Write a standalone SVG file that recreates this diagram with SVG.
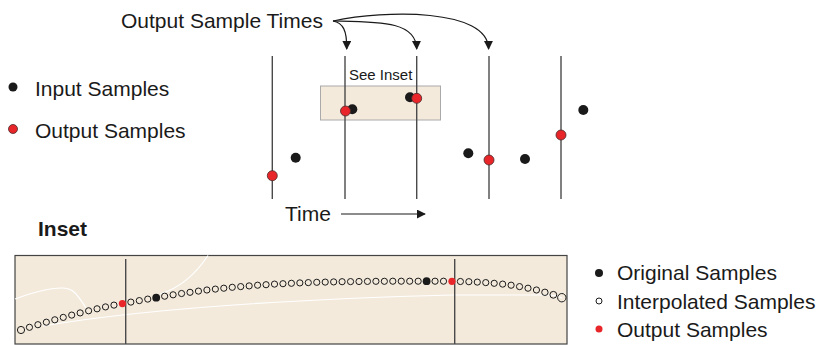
<svg xmlns="http://www.w3.org/2000/svg" width="819" height="345" viewBox="0 0 819 345">
<defs>
<style>
text{font-family:"Liberation Sans",Arial,sans-serif;fill:#1a1a1a}
.lbl{font-size:21px}
.vl{stroke:#4a4a4a;stroke-width:1.4;fill:none}
.bk{fill:#1a1a1a}
.rd{fill:#e8262a;stroke:#4a2a2a;stroke-width:0.8}
.rs{fill:#e8262a}
.o{fill:none;stroke:#1a1a1a;stroke-width:1}
.conn{stroke:#1a1a1a;stroke-width:1.2;fill:none}
.wl{stroke:#ffffff;stroke-width:1.2;fill:none}
</style>
<marker id="ah" viewBox="0 0 10 10" refX="9" refY="5" markerWidth="9" markerHeight="9" markerUnits="userSpaceOnUse" orient="auto">
<path d="M0,0 L10,5 L0,10 Z" fill="#1a1a1a"/>
</marker>
</defs>
<rect width="819" height="345" fill="#ffffff"/>

<g id="legend-top">
<circle class="bk" cx="13" cy="87" r="4.5"/>
<text class="lbl" x="35" y="96">Input Samples</text>
<circle class="rd" cx="13" cy="129" r="4.5"/>
<text class="lbl" x="35" y="138">Output Samples</text>
</g>

<g id="title-output-times">
<text class="lbl" x="121" y="28">Output Sample Times</text>
</g>

<g id="see-inset">
<rect x="320.5" y="86" width="120" height="34" fill="#f3eadc" stroke="#aaaaaa" stroke-width="1"/>
<text x="349" y="80" font-size="15">See Inset</text>
</g>

<g id="time-lines">
<line class="vl" x1="272.3" y1="56" x2="272.3" y2="199"/>
<line class="vl" x1="345" y1="56" x2="345" y2="199"/>
<line class="vl" x1="416.7" y1="56" x2="416.7" y2="199"/>
<line class="vl" x1="489" y1="56" x2="489" y2="199" stroke="#888888"/>
<line class="vl" x1="561" y1="56" x2="561" y2="199"/>
</g>

<g id="samples">
<circle class="bk" cx="295.7" cy="157.7" r="5"/>
<circle class="rd" cx="272.3" cy="175.7" r="5"/>
<circle class="bk" cx="352.3" cy="109.3" r="5"/>
<circle class="rd" cx="345.5" cy="111" r="5"/>
<circle class="bk" cx="410" cy="97.3" r="5"/>
<circle class="rd" cx="416.7" cy="98.3" r="5"/>
<circle class="bk" cx="468.3" cy="153.3" r="5"/>
<circle class="rd" cx="489" cy="160" r="5"/>
<circle class="bk" cx="525" cy="159" r="5"/>
<circle class="rd" cx="561" cy="135" r="5"/>
<circle class="bk" cx="583.3" cy="110" r="5"/>
</g>

<g id="time-axis">
<text class="lbl" x="285" y="221">Time</text>
</g>

<g id="connectors">
<path class="conn" d="M333,21 C343,23 347,30 346.7,49" marker-end="url(#ah)"/>
<path class="conn" d="M333,21 C380,22 416,21 416.7,49" marker-end="url(#ah)"/>
<path class="conn" d="M333,21 C385,10 488,8 488.6,49" marker-end="url(#ah)"/>
<line class="conn" x1="341" y1="214" x2="425" y2="214" marker-end="url(#ah)"/>
</g>

<g id="inset-title">
<text x="38" y="236" font-size="21" font-weight="bold">Inset</text>
</g>

<g id="inset">
<rect x="15" y="255.5" width="552" height="88.5" fill="#f3eadc" stroke="#444444" stroke-width="1.2"/>
<path class="wl" d="M15,299 C30,293 50,288 62,288 C72,288 76,292 86,308"/>
<path class="wl" d="M43,326 C150,308 300,299 453,295 L547,295 C553,295 558,296 562,298"/>
<path class="wl" d="M208,255.5 C195,275 180,288 160,294"/>
<line class="vl" x1="125.7" y1="259" x2="125.7" y2="344"/>
<line class="vl" x1="454.7" y1="259" x2="454.7" y2="344"/>
<g id="interp">
<circle class="o" cx="21" cy="330" r="3.6"/>
<circle class="o" cx="29.45" cy="327.3" r="3.1"/>
<circle class="o" cx="37.9" cy="324.7" r="3.1"/>
<circle class="o" cx="46.35" cy="322.2" r="3.1"/>
<circle class="o" cx="54.8" cy="319.8" r="3.1"/>
<circle class="o" cx="63.25" cy="317.4" r="3.1"/>
<circle class="o" cx="71.7" cy="315.1" r="3.1"/>
<circle class="o" cx="80.15" cy="312.9" r="3.1"/>
<circle class="o" cx="88.6" cy="310.8" r="3.1"/>
<circle class="o" cx="97.05" cy="308.8" r="3.1"/>
<circle class="o" cx="105.5" cy="306.9" r="3.1"/>
<circle class="o" cx="113.95" cy="305.1" r="3.1"/>
<circle class="o" cx="130.85" cy="302.1" r="3.1"/>
<circle class="o" cx="139.3" cy="300.6" r="3.1"/>
<circle class="o" cx="147.75" cy="299.1" r="3.1"/>
<circle class="o" cx="164.65" cy="296.2" r="3.1"/>
<circle class="o" cx="173.1" cy="294.8" r="3.1"/>
<circle class="o" cx="181.55" cy="293.5" r="3.1"/>
<circle class="o" cx="190" cy="292.3" r="3.1"/>
<circle class="o" cx="198.45" cy="291.1" r="3.1"/>
<circle class="o" cx="206.9" cy="290" r="3.1"/>
<circle class="o" cx="215.35" cy="289.1" r="3.1"/>
<circle class="o" cx="223.8" cy="288.2" r="3.1"/>
<circle class="o" cx="232.25" cy="287.3" r="3.1"/>
<circle class="o" cx="240.7" cy="286.6" r="3.1"/>
<circle class="o" cx="249.15" cy="285.9" r="3.1"/>
<circle class="o" cx="257.6" cy="285.2" r="3.1"/>
<circle class="o" cx="266.05" cy="284.7" r="3.1"/>
<circle class="o" cx="274.5" cy="284.1" r="3.1"/>
<circle class="o" cx="282.95" cy="283.7" r="3.1"/>
<circle class="o" cx="291.4" cy="283.3" r="3.1"/>
<circle class="o" cx="299.85" cy="282.9" r="3.1"/>
<circle class="o" cx="308.3" cy="282.6" r="3.1"/>
<circle class="o" cx="316.75" cy="282.3" r="3.1"/>
<circle class="o" cx="325.2" cy="282.1" r="3.1"/>
<circle class="o" cx="333.65" cy="281.9" r="3.1"/>
<circle class="o" cx="342.1" cy="281.7" r="3.1"/>
<circle class="o" cx="350.55" cy="281.6" r="3.1"/>
<circle class="o" cx="359" cy="281.5" r="3.1"/>
<circle class="o" cx="367.45" cy="281.4" r="3.1"/>
<circle class="o" cx="375.9" cy="281.3" r="3.1"/>
<circle class="o" cx="384.35" cy="281.3" r="3.1"/>
<circle class="o" cx="392.8" cy="281.2" r="3.1"/>
<circle class="o" cx="401.25" cy="281.2" r="3.1"/>
<circle class="o" cx="409.7" cy="281.2" r="3.1"/>
<circle class="o" cx="418.15" cy="281.2" r="3.1"/>
<circle class="o" cx="435.05" cy="281.2" r="3.1"/>
<circle class="o" cx="443.5" cy="281.2" r="3.1"/>
<circle class="o" cx="460.4" cy="281.5" r="3.1"/>
<circle class="o" cx="468.85" cy="281.7" r="3.1"/>
<circle class="o" cx="477.3" cy="282.1" r="3.1"/>
<circle class="o" cx="485.75" cy="282.6" r="3.1"/>
<circle class="o" cx="494.2" cy="283.3" r="3.1"/>
<circle class="o" cx="502.65" cy="284.1" r="3.1"/>
<circle class="o" cx="511.1" cy="285.2" r="3.1"/>
<circle class="o" cx="519.55" cy="286.6" r="3.1"/>
<circle class="o" cx="528" cy="288.2" r="3.1"/>
<circle class="o" cx="536.45" cy="290" r="3.1"/>
<circle class="o" cx="544.9" cy="292.3" r="3.2"/>
<circle class="o" cx="553.35" cy="294.8" r="3.4"/>
<circle class="o" cx="561.8" cy="297.7" r="4.2"/>
</g>
<circle class="rs" cx="122.4" cy="303.6" r="3.6"/>
<circle class="bk" cx="156.2" cy="297.7" r="3.9"/>
<circle class="bk" cx="426.6" cy="281.2" r="3.9"/>
<circle class="rs" cx="451.95" cy="281.3" r="3.6"/>
</g>

<g id="legend-inset">
<circle class="bk" cx="599" cy="273" r="4"/>
<text class="lbl" x="617" y="280">Original Samples</text>
<circle class="o" cx="599" cy="301" r="3"/>
<text class="lbl" x="617" y="309">Interpolated Samples</text>
<circle class="rs" cx="599" cy="329" r="3.5"/>
<text class="lbl" x="617" y="337">Output Samples</text>
</g>
</svg>
